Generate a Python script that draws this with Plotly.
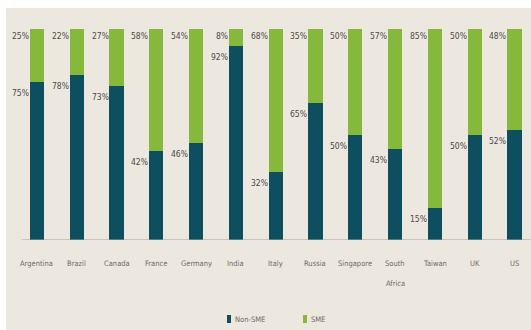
import plotly.graph_objects as go

# Share of firms by type, per market (%)
countries = ["Argentina", "Brazil", "Canada", "France", "Germany", "India", "Italy",
             "Russia", "Singapore", "South Africa", "Taiwan", "UK", "US"]
tick_labels = ["Argentina", "Brazil", "Canada", "France", "Germany", "India", "Italy",
               "Russia", "Singapore", "South<br>Africa", "Taiwan", "UK", "US"]
non_sme = [75, 78, 73, 42, 46, 92, 32, 65, 50, 43, 15, 50, 52]
sme = [25, 22, 27, 58, 54, 8, 68, 35, 50, 57, 85, 50, 48]

series_names = ["Non-SME", "SME"]
dark = "#0e4f5f"
green = "#86b93b"
bg = "#ede8df"
label_col = "#4a4a4a"
tick_col = "#6e6b66"
FONT = "Liberation Sans Narrow, DejaVu Sans Condensed, Arial Narrow, sans-serif"

W, H = 531, 330
ML, MR, MT, MB = 17, 0, 29, 90
PW, PH = W - ML - MR, H - MT - MB


def px_x(px):
    return (px - ML) / PW


def px_y(py):
    return (H - MB - py) / PH


idx = list(range(len(countries)))

fig = go.Figure()
fig.add_bar(x=idx, y=non_sme, name=series_names[0], marker_color=dark,
            marker_line_width=0, showlegend=False)
fig.add_bar(x=idx, y=sme, name=series_names[1], marker_color=green,
            marker_line_width=0, showlegend=False)

ann = []
# value labels, right-aligned against the left edge of each bar
for i, (a, b) in enumerate(zip(non_sme, sme)):
    ann.append(dict(x=i, y=a, xref="x", yref="y", text=f"{a}%", showarrow=False,
                    xanchor="right", yanchor="top", xshift=-6, yshift=-4,
                    font=dict(family=FONT, size=8.5, color=label_col)))
    ann.append(dict(x=i, y=a + b, xref="x", yref="y", text=f"{b}%", showarrow=False,
                    xanchor="right", yanchor="top", xshift=-6, yshift=0,
                    font=dict(family=FONT, size=8.5, color=label_col)))

# category labels under the baseline
for i, lab in enumerate(tick_labels):
    for k, line in enumerate(lab.split("<br>")):
        ann.append(dict(x=i, y=0, xref="x", yref="y", text=line, showarrow=False,
                        xanchor="center", yanchor="top", yshift=-17 - 20 * k,
                        font=dict(family=FONT, size=7.5, color=tick_col)))

# legend
legend_items = [(series_names[0], dark, 229), (series_names[1], green, 305)]
shapes = [
    dict(type="rect", xref="paper", yref="paper", x0=px_x(0), x1=px_x(6),
         y0=px_y(H), y1=px_y(0), fillcolor="white", line_width=0, layer="below"),
    dict(type="rect", xref="paper", yref="paper", x0=px_x(0), x1=px_x(W),
         y0=px_y(8), y1=px_y(0), fillcolor="white", line_width=0, layer="below"),
    dict(type="line", xref="x", yref="y", x0=-0.38, x1=12.42, y0=0, y1=0,
         line=dict(color="#a8a298", width=1)),
]
for name, col, cx in legend_items:
    shapes.append(dict(type="rect", xref="paper", yref="paper",
                       x0=px_x(cx - 2), x1=px_x(cx + 2), y0=px_y(323), y1=px_y(315),
                       fillcolor=col, line_width=0))
    ann.append(dict(x=px_x(cx + 4), y=px_y(319), xref="paper", yref="paper",
                    text=name, showarrow=False, xanchor="left", yanchor="middle",
                    font=dict(family=FONT, size=7.5, color=tick_col)))

fig.update_layout(
    width=W, height=H, barmode="stack", bargap=0.645,
    margin=dict(l=ML, r=MR, t=MT, b=MB, pad=0),
    paper_bgcolor=bg, plot_bgcolor=bg,
    xaxis=dict(range=[-0.5, 12.415], showgrid=False, zeroline=False,
               showticklabels=False, showline=False, fixedrange=True),
    yaxis=dict(range=[0, 100], showgrid=False, zeroline=False,
               showticklabels=False, showline=False, fixedrange=True),
    annotations=ann, shapes=shapes, showlegend=False,
)

fig.write_html("out.html")
